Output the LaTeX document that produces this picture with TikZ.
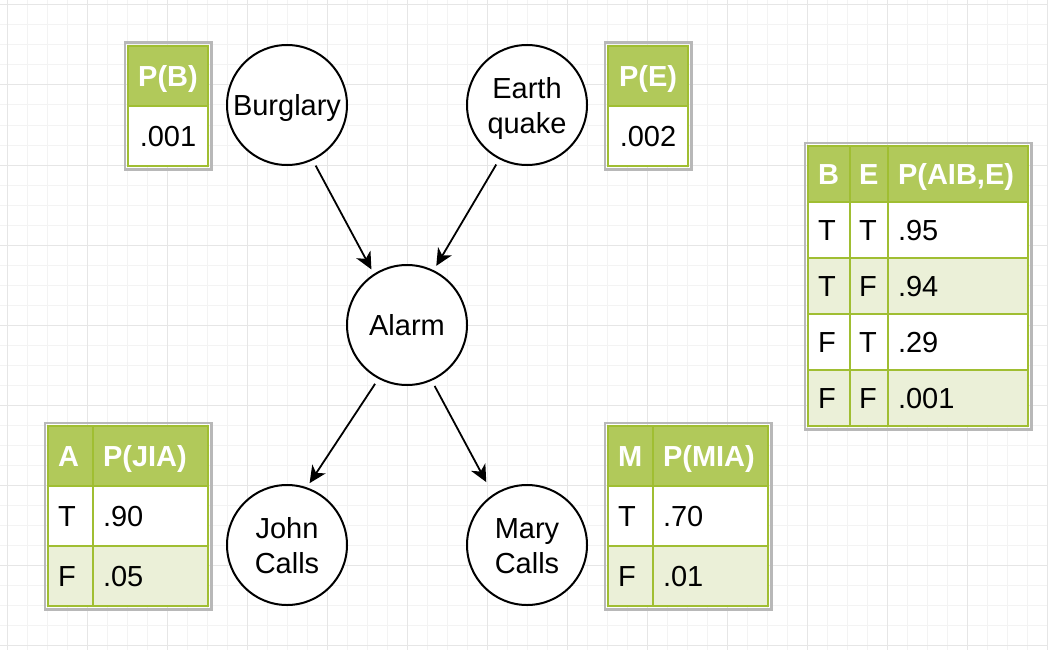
\documentclass[tikz,border=0pt]{standalone}
\usepackage{fontspec}
\setmainfont{Liberation Sans}
\usetikzlibrary{arrows.meta}
\definecolor{hdgreen}{RGB}{177,201,90}
\definecolor{rowgreen}{RGB}{235,240,216}
\definecolor{lngreen}{RGB}{160,190,50}
\definecolor{frgray}{RGB}{184,184,184}
\definecolor{gridminor}{RGB}{243,243,243}
\definecolor{gridmajor}{RGB}{230,230,230}
\begin{document}
\begin{tikzpicture}[x=1pt,y=-1pt]
        \tikzset{vertex/.style = {shape=circle,draw,fill=white,line width=2pt,minimum size=120pt,inner sep=0pt,align=center,text height=21pt,text depth=0pt,font=\fontsize{29}{35}\selectfont}};
        \tikzset{twoline/.style = {text height=56pt,text depth=0pt}};
        \tikzset{edge/.style = {-{Stealth[length=17pt,width=16pt,inset=5pt]},line width=1.8pt,shorten <=6pt,shorten >=5pt}};
        \tikzset{cell/.style = {draw=lngreen,fill=white,line width=2pt,anchor=north west,inner xsep=10pt,inner ysep=0pt,text height=21pt,text depth=0pt,align=left,font=\fontsize{29}{35}\selectfont}};
        \tikzset{head/.style = {cell,fill=hdgreen,text=white,font=\fontsize{29}{35}\selectfont\bfseries}};
        \tikzset{tframe/.style = {draw=frgray,line width=2.5pt}};
        \useasboundingbox (0,0) rectangle (1048,650);
        % grid
        \foreach \x in {7,27,...,1047} \draw[gridminor,line width=1pt] (\x,0) -- (\x,650);
        \foreach \y in {5,25,...,645} \draw[gridminor,line width=1pt] (0,\y) -- (1048,\y);
        \foreach \x in {7,87,...,1047} \draw[gridmajor,line width=1pt] (\x,0) -- (\x,650);
        \foreach \y in {5,85,...,645} \draw[gridmajor,line width=1pt] (0,\y) -- (1048,\y);
        % network
        \node[vertex] (burglary) at (287,105) {Burglary};
        \node[vertex,twoline] (earth) at (527,105) {Earth\\quake};
        \node[vertex] (alarm) at (407,325) {Alarm};
        \node[vertex,twoline] (john) at (287,545) {John\\Calls};
        \node[vertex,twoline] (mary) at (527,545) {Mary\\Calls};
        \draw[edge] (burglary.295) -- (alarm.123);
        \draw[edge] (earth.243) -- (alarm.64);
        \draw[edge] (alarm.242) -- (john.71);
        \draw[edge,shorten >=14pt] (alarm.294) -- (mary.124);
        % P(B) and P(E)
        \node[head,text width=60pt,align=center,minimum height=60pt] (pb0) at (127,45) {P(B)};
        \node[cell,text width=60pt,align=center,minimum height=60pt] (pb1) at (127,105) {.001};
        \draw[tframe] ([xshift=-2.25pt,yshift=2.25pt]pb0.north west) rectangle ([xshift=2.25pt,yshift=-2.25pt]pb1.south east);
        \node[head,text width=60pt,align=center,minimum height=60pt] (pe0) at (607,45) {P(E)};
        \node[cell,text width=60pt,align=center,minimum height=60pt] (pe1) at (607,105) {.002};
        \draw[tframe] ([xshift=-2.25pt,yshift=2.25pt]pe0.north west) rectangle ([xshift=2.25pt,yshift=-2.25pt]pe1.south east);
        % P(A|B,E)
        \node[head,text width=22pt,minimum height=56pt] (ab0) at (807,145) {B};
        \node[head,text width=20pt,inner xsep=9pt,minimum height=56pt] (ae0) at (849,145) {E};
        \node[head,text width=120pt,minimum height=56pt] (ap0) at (887,145) {P(AIB,E)};
        \foreach \b/\e/\p/\f [count=\i] in {T/T/.95/white, T/F/.94/rowgreen, F/T/.29/white, F/F/.001/rowgreen} {
            \node[cell,fill=\f,text width=22pt,minimum height=56pt] (ab\i) at (807,{145+56*\i}) {\b};
            \node[cell,fill=\f,text width=20pt,inner xsep=9pt,minimum height=56pt] (ae\i) at (849,{145+56*\i}) {\e};
            \node[cell,fill=\f,text width=120pt,minimum height=56pt] (ap\i) at (887,{145+56*\i}) {\p};
        }
        \draw[tframe] ([xshift=-2.25pt,yshift=2.25pt]ab0.north west) rectangle ([xshift=2.25pt,yshift=-2.25pt]ap4.south east);
        % P(J|A)
        \node[head,text width=25pt,minimum height=60pt] (ja0) at (47,425) {A};
        \node[head,text width=95pt,minimum height=60pt] (jp0) at (92,425) {P(JIA)};
        \node[cell,text width=25pt,minimum height=60pt] (ja1) at (47,485) {T};
        \node[cell,text width=95pt,minimum height=60pt] (jp1) at (92,485) {.90};
        \node[cell,fill=rowgreen,text width=25pt,minimum height=60pt] (ja2) at (47,545) {F};
        \node[cell,fill=rowgreen,text width=95pt,minimum height=60pt] (jp2) at (92,545) {.05};
        \draw[tframe] ([xshift=-2.25pt,yshift=2.25pt]ja0.north west) rectangle ([xshift=2.25pt,yshift=-2.25pt]jp2.south east);
        % P(M|A)
        \node[head,text width=25pt,minimum height=60pt] (ma0) at (607,425) {M};
        \node[head,text width=95pt,minimum height=60pt] (mp0) at (652,425) {P(MIA)};
        \node[cell,text width=25pt,minimum height=60pt] (ma1) at (607,485) {T};
        \node[cell,text width=95pt,minimum height=60pt] (mp1) at (652,485) {.70};
        \node[cell,fill=rowgreen,text width=25pt,minimum height=60pt] (ma2) at (607,545) {F};
        \node[cell,fill=rowgreen,text width=95pt,minimum height=60pt] (mp2) at (652,545) {.01};
        \draw[tframe] ([xshift=-2.25pt,yshift=2.25pt]ma0.north west) rectangle ([xshift=2.25pt,yshift=-2.25pt]mp2.south east);
    \end{tikzpicture}
\end{document}
